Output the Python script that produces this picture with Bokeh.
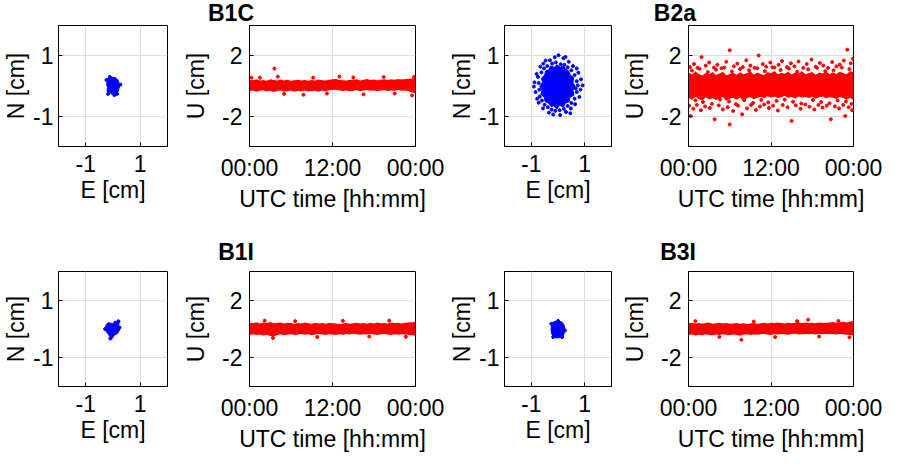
from bokeh.plotting import figure
from bokeh.layouts import row, column
from bokeh.models import FixedTicker, Range1d, Div
from bokeh.embed import file_html
from bokeh.resources import INLINE

# ---------------- data ----------------
TITLES = ["B1C", "B2a", "B1I", "B3I"]
EN_TICKS = [-1, 1]
EN_LABELS = {-1: "-1", 1: "1"}
U_TICKS = [-2, 2]
U_LABELS = {-2: "-2", 2: "2"}
T_TICKS = [0, 12, 24]
T_LABELS = {0: "00:00", 12: "12:00", 24: "00:00"}

HOURS = [0, 0.5, 1, 1.5, 2, 2.5, 3, 3.5, 4, 4.5, 5, 5.5, 6, 6.5, 7, 7.5,
         8, 8.5, 9, 9.5, 10, 10.5, 11, 11.5, 12, 12.5, 13, 13.5, 14, 14.5,
         15, 15.5, 16, 16.5, 17, 17.5, 18, 18.5, 19, 19.5, 20, 20.5, 21,
         21.5, 22, 22.5, 23, 23.5, 24]

# B1C: horizontal scatter (dense core outline + loose points)
B1C_E_CORE = [-0.20, -0.05, 0.10, 0.18, 0.22, 0.26, 0.22, 0.20, 0.10, 0.02,
              -0.08, -0.18, -0.22, -0.20, -0.24, -0.21]
B1C_N_CORE = [0.25, 0.29, 0.27, 0.20, 0.10, 0.02, -0.08, -0.18, -0.24, -0.29,
              -0.25, -0.27, -0.15, -0.05, 0.05, 0.15]
B1C_E_PTS = [-0.24, 0.27, 0.15, -0.12, 0.05, -0.18]
B1C_N_PTS = [0.20, 0.05, -0.26, 0.30, -0.30, -0.26]
# B1C: up component band (upper / lower edge) and loose points
B1C_U_UP = [0.42, 0.38, 0.45, 0.36, 0.40, 0.35, 0.44,
            0.39, 0.37, 0.43, 0.36, 0.41, 0.34, 0.38,
            0.42, 0.36, 0.39, 0.35, 0.40, 0.37, 0.43,
            0.38, 0.36, 0.41, 0.45, 0.47, 0.40, 0.38,
            0.36, 0.42, 0.39, 0.44, 0.37, 0.41, 0.46,
            0.40, 0.43, 0.38, 0.42, 0.45, 0.39, 0.44,
            0.41, 0.47, 0.43, 0.46, 0.48, 0.50, 0.52]
B1C_U_LO = [-0.35, -0.30, -0.38, -0.32, -0.28, -0.36, -0.31,
            -0.40, -0.33, -0.29, -0.37, -0.34, -0.30, -0.38,
            -0.32, -0.35, -0.29, -0.36, -0.33, -0.31, -0.38,
            -0.30, -0.34, -0.28, -0.27, -0.25, -0.30, -0.33,
            -0.29, -0.35, -0.31, -0.28, -0.34, -0.30, -0.27,
            -0.32, -0.29, -0.35, -0.30, -0.28, -0.33, -0.29,
            -0.31, -0.27, -0.32, -0.30, -0.35, -0.42, -0.50]
B1C_T_PTS = [0.3, 1.5, 3.6, 4.1, 5.0, 7.8, 9.2, 11.2, 13.0, 15.0, 16.5, 19.4,
             21.0, 23.5, 23.8]
B1C_U_PTS = [0.55, 0.55, 1.15, 0.62, -0.52, -0.58, 0.55, -0.50, 0.62, 0.56,
             -0.55, 0.60, -0.50, -0.62, 0.60]

# B2a
B2A_E_CORE = [-0.04, 0.08, 0.20, 0.30, 0.40, 0.46, 0.58, 0.56, 0.64, 0.56,
              0.60, 0.44, 0.42, 0.28, 0.20, 0.06, -0.04, -0.16, -0.26, -0.36,
              -0.48, -0.52, -0.64, -0.60, -0.68, -0.58, -0.62, -0.50, -0.46, -0.34,
              -0.28, -0.14]
B2A_N_CORE = [0.70, 0.62, 0.66, 0.55, 0.50, 0.36, 0.28, 0.12, -0.02, -0.14,
              -0.30, -0.38, -0.52, -0.56, -0.70, -0.64, -0.76, -0.66, -0.68, -0.56,
              -0.52, -0.36, -0.28, -0.14, 0.00, 0.12, 0.26, 0.36, 0.50, 0.54,
              0.66, 0.62]
B2A_E_PTS = [-0.72, -0.70, -0.75, -0.68, -0.62, -0.60, -0.52, -0.50, -0.40, -0.38,
             -0.22, -0.24, -0.08, -0.10, 0.10, 0.06, 0.24, 0.22, 0.36, 0.36,
             0.50, 0.50, 0.62, 0.62, 0.70, 0.70, 0.74, 0.66,
             -0.88, -0.84, -0.80, -0.90, -0.66, -0.72, -0.55, -0.56, -0.30, -0.34,
             -0.12, -0.18, 0.02, 0.08, 0.20, 0.30, 0.40, 0.48, 0.56, 0.64,
             0.76, 0.80, 0.86, 0.92, 0.84, 0.46, -0.46, 0.28, -0.78, 0.70]
B2A_N_PTS = [0.10, -0.12, 0.30, -0.35, 0.45, -0.48, 0.58, -0.62, 0.66, -0.70,
             0.74, -0.78, 0.78, -0.82, 0.72, -0.80, 0.70, -0.76, 0.62, -0.66,
             0.52, -0.56, 0.36, -0.42, 0.16, -0.20, 0.02, -0.08,
             0.12, -0.20, 0.40, -0.02, 0.64, -0.55, 0.74, -0.74, 0.85, -0.88,
             0.95, -0.94, 1.02, -0.96, 0.92, -0.86, 0.80, -0.74, 0.66, -0.60,
             0.44, -0.36, 0.22, 0.02, -0.12, -0.90, 0.84, 0.96, -0.42, 0.58]
B2A_U_UP = [0.90, 0.76, 0.97, 0.80, 0.70, 0.86, 0.77,
            0.93, 0.72, 0.82, 0.95, 0.71, 0.79, 0.88,
            0.74, 0.91, 0.78, 0.84, 0.97, 0.75, 0.89,
            0.80, 0.72, 0.93, 0.84, 1.00, 0.77, 0.88,
            0.81, 0.95, 0.76, 0.90, 0.82, 0.98, 0.79,
            0.85, 0.93, 0.75, 0.89, 0.83, 0.97, 0.78,
            0.91, 0.80, 0.95, 0.86, 0.77, 1.00, 0.90]
B2A_U_LO = [-0.78, -0.92, -0.72, -0.86, -0.97, -0.75, -0.89,
            -0.79, -0.95, -0.82, -0.73, -0.99, -0.84, -0.77,
            -0.91, -0.76, -1.02, -0.80, -0.74, -0.87, -0.78,
            -0.72, -0.81, -0.68, -0.76, -0.71, -0.80, -0.74,
            -0.66, -0.78, -0.72, -0.82, -0.70, -0.76, -0.73,
            -0.79, -0.71, -0.84, -0.75, -0.69, -0.81, -0.74,
            -0.77, -0.86, -0.72, -0.80, -0.91, -0.78, -0.96]
B2A_T_HI = [0.2, 0.8, 1.3, 1.9, 2.5, 3.0, 3.7, 4.2, 4.8, 5.5, 6.0, 6.6, 7.1, 7.9,
            8.4, 9.0, 9.6, 10.2, 10.8, 11.3, 11.9, 12.5, 13.1, 13.6, 14.3, 14.9,
            15.4, 16.0, 16.7, 17.2, 17.9, 18.5, 19.1, 19.6, 20.3, 20.9, 21.5,
            22.0, 22.6, 23.1, 23.6, 23.9]
B2A_U_HI = [1.25, 1.45, 1.20, 1.91, 1.35, 1.55, 1.22, 1.40, 1.18, 1.60, 2.36,
            1.30, 1.48, 1.25, 1.70, 1.35, 1.20, 2.02, 1.45, 1.28, 1.55, 1.22,
            1.40, 1.65, 1.25, 1.50, 1.30, 1.62, 1.20, 1.45, 1.75, 1.28, 1.52,
            1.35, 1.20, 1.58, 1.30, 1.42, 1.68, 2.40, 1.50, 1.80]
B2A_T_LO = [0.1, 0.3, 0.7, 1.2, 1.8, 2.4, 3.1, 3.8, 4.4, 5.0, 5.7, 6.0, 6.5, 7.2,
            7.8, 8.5, 9.1, 9.8, 10.4, 11.0, 11.7, 12.3, 13.0, 13.7, 14.4, 15.0,
            15.6, 16.3, 17.0, 17.6, 18.3, 18.9, 19.5, 20.1, 20.7, 21.3, 21.9,
            22.5, 22.8, 23.3, 23.8]
B2A_U_LOW = [-1.30, -1.98, -1.50, -1.25, -1.60, -1.35, -1.45, -2.20, -1.28,
             -1.55, -1.40, -2.54, -1.65, -1.30, -1.87, -1.48, -1.25, -1.58,
             -1.35, -1.22, -1.45, -1.30, -1.62, -1.25, -1.40, -2.31, -1.28,
             -1.50, -1.22, -1.38, -1.55, -1.25, -1.42, -1.30, -2.20, -1.35,
             -1.48, -1.25, -1.98, -1.40, -1.60]
B2A_T_EDGE = [0.5, 1.0, 1.6, 2.1, 2.8, 3.4, 4.0, 4.6, 5.2, 5.9, 6.3, 6.9, 7.5,
              8.1, 8.8, 9.4, 10.0, 10.6, 11.1, 11.6, 12.2, 12.8, 13.4, 14.0,
              14.6, 15.2, 15.8, 16.4, 17.4, 18.1, 18.7, 19.3, 19.9, 20.5, 21.1,
              21.7, 22.3, 22.9, 23.4, 23.7]
B2A_U_EDGE = [1.02, -0.95, 1.14, -1.06, 0.92, -1.18, 1.08, -0.90, 1.22, -1.02,
              0.96, -1.20, 1.12, -0.94, 1.04, -1.12, 1.18, -0.92, 0.98, -1.08,
              1.24, -0.98, 1.06, -0.90, 1.16, -1.04, 0.94, -1.16, 1.10, -0.92,
              1.20, -1.06, 0.98, -1.14, 1.04, -0.96, 1.22, -1.02, 1.12, -1.18]

# B1I
B1I_E_CORE = [-0.28, -0.25, -0.18, -0.08, 0.02, 0.10, 0.17, 0.22, 0.21, 0.25,
              0.20, 0.12, 0.04, -0.02, -0.08, -0.12, -0.20, -0.28]
B1I_N_CORE = [0.05, 0.15, 0.22, 0.20, 0.18, 0.22, 0.28, 0.22, 0.10, 0.00,
              -0.12, -0.18, -0.22, -0.32, -0.34, -0.25, -0.15, -0.05]
B1I_E_PTS = [0.20, -0.29, 0.24, -0.10, 0.08]
B1I_N_PTS = [0.27, 0.00, 0.05, -0.33, 0.22]
B1I_U_UP = [0.44, 0.40, 0.47, 0.38, 0.45, 0.42, 0.48,
            0.40, 0.43, 0.46, 0.39, 0.44, 0.41, 0.37,
            0.42, 0.38, 0.45, 0.40, 0.36, 0.43, 0.39,
            0.41, 0.37, 0.44, 0.40, 0.38, 0.35, 0.39,
            0.42, 0.36, 0.40, 0.44, 0.38, 0.41, 0.37,
            0.43, 0.39, 0.45, 0.40, 0.42, 0.38, 0.46,
            0.41, 0.44, 0.39, 0.43, 0.45, 0.47, 0.50]
B1I_U_LO = [-0.40, -0.36, -0.42, -0.38, -0.45, -0.40, -0.48,
            -0.52, -0.41, -0.37, -0.43, -0.39, -0.36, -0.42,
            -0.38, -0.35, -0.40, -0.37, -0.43, -0.39, -0.34,
            -0.38, -0.41, -0.36, -0.39, -0.42, -0.37, -0.40,
            -0.35, -0.38, -0.33, -0.37, -0.40, -0.36, -0.39,
            -0.35, -0.38, -0.41, -0.36, -0.34, -0.38, -0.42,
            -0.37, -0.40, -0.36, -0.39, -0.41, -0.44, -0.46]
B1I_T_PTS = [2.2, 3.4, 6.6, 9.8, 13.5, 17.3, 20.2, 22.6]
B1I_U_PTS = [0.58, -0.62, 0.55, -0.55, 0.57, -0.52, 0.58, -0.54]

# B3I
B3I_E_CORE = [-0.22, -0.10, 0.05, 0.15, 0.22, 0.26, 0.24, 0.20, 0.08, -0.05,
              -0.15, -0.23, -0.26, -0.25]
B3I_N_CORE = [0.22, 0.27, 0.27, 0.24, 0.15, 0.02, -0.12, -0.24, -0.30, -0.31,
              -0.28, -0.18, -0.05, 0.10]
B3I_E_PTS = [-0.25, 0.26, 0.00, 0.15, -0.18]
B3I_N_PTS = [0.18, -0.05, 0.28, -0.28, -0.28]
B3I_U_UP = [0.40, 0.44, 0.38, 0.42, 0.36, 0.41, 0.45,
            0.37, 0.40, 0.43, 0.38, 0.41, 0.36, 0.39,
            0.42, 0.37, 0.40, 0.35, 0.38, 0.41, 0.36,
            0.40, 0.43, 0.38, 0.44, 0.41, 0.46, 0.42,
            0.39, 0.44, 0.40, 0.43, 0.47, 0.42, 0.45,
            0.41, 0.44, 0.40, 0.46, 0.43, 0.41, 0.45,
            0.48, 0.44, 0.47, 0.50, 0.46, 0.52, 0.55]
B3I_U_LO = [-0.42, -0.38, -0.45, -0.40, -0.43, -0.37, -0.41,
            -0.44, -0.39, -0.42, -0.36, -0.40, -0.43, -0.38,
            -0.41, -0.47, -0.39, -0.36, -0.42, -0.38, -0.40,
            -0.37, -0.35, -0.39, -0.42, -0.36, -0.38, -0.34,
            -0.37, -0.40, -0.35, -0.33, -0.38, -0.36, -0.34,
            -0.37, -0.35, -0.39, -0.34, -0.36, -0.33, -0.37,
            -0.35, -0.38, -0.34, -0.37, -0.40, -0.42, -0.45]
B3I_T_PTS = [1.0, 4.5, 7.7, 9.5, 12.6, 15.8, 17.4, 19.0, 21.8, 23.4]
B3I_U_PTS = [0.55, -0.55, -0.75, 0.52, -0.56, 0.55, 0.65, -0.52, 0.56, -0.58]

# ---------------- styling ----------------
FONT = "Liberation Sans"
TICK_PX = "23px"
RED = "#ff0000"
BLUE = "#0000ff"
GRID = "#dedede"


def make_fig(xr, yr, width, height, bl, br, bt, bb, xlabel, ylabel,
             xticks, yticks, xover, yover, y_tick_standoff=7, y_label_standoff=2):
    p = figure(width=width, height=height,
               min_border_left=bl, min_border_right=br,
               min_border_top=bt, min_border_bottom=bb,
               x_range=Range1d(*xr), y_range=Range1d(*yr),
               output_backend="svg", toolbar_location=None,
               x_axis_label=xlabel, y_axis_label=ylabel)
    p.outline_line_color = "black"
    p.outline_line_width = 1
    p.outline_line_alpha = 1
    p.background_fill_color = "white"
    p.border_fill_color = "white"
    p.xaxis.ticker = FixedTicker(ticks=xticks)
    p.yaxis.ticker = FixedTicker(ticks=yticks)
    p.xgrid.ticker = FixedTicker(ticks=xticks)
    p.ygrid.ticker = FixedTicker(ticks=yticks)
    p.xaxis.major_label_overrides = xover
    p.yaxis.major_label_overrides = yover
    for g in (p.xgrid, p.ygrid):
        g.grid_line_color = GRID
        g.grid_line_width = 1
    for ax in p.axis:
        ax.major_label_text_font = FONT
        ax.major_label_text_font_size = TICK_PX
        ax.major_label_text_color = "black"
        ax.axis_label_text_font = FONT
        ax.axis_label_text_font_size = TICK_PX
        ax.axis_label_text_font_style = "normal"
        ax.axis_label_text_color = "black"
        ax.major_tick_in = 4
        ax.major_tick_out = 0
        ax.major_tick_line_color = "black"
        ax.minor_tick_line_color = None
        ax.axis_line_color = "black"
    p.xaxis.major_label_standoff = 8
    p.xaxis.axis_label_standoff = 2
    p.yaxis.major_label_standoff = y_tick_standoff
    p.yaxis.axis_label_standoff = y_label_standoff
    return p


def en_panel(bl, height, bt, bb, ce, cn, pe, pn):
    p = make_fig((-2, 2), (-2, 2), bl + 112 + 2, height, bl, 2, bt, bb,
                 "E [cm]", "N [cm]", EN_TICKS, EN_TICKS, EN_LABELS, EN_LABELS,
                 y_tick_standoff=5, y_label_standoff=1)
    p.patch(x=ce, y=cn, fill_color=BLUE, line_color=BLUE, line_width=1)
    p.scatter(x=pe, y=pn, size=3, color=BLUE, marker="circle")
    return p


def u_panel(bl, fw, br, height, bt, bb, up, lo, pts):
    p = make_fig((0, 24), (-4, 4), bl + fw + br, height, bl, br, bt, bb,
                 "UTC time [hh:mm]", "U [cm]", T_TICKS, U_TICKS, T_LABELS, U_LABELS,
                 y_tick_standoff=7, y_label_standoff=10)
    p.varea(x=HOURS, y1=lo, y2=up, fill_color=RED)
    for (tt, uu) in pts:
        p.scatter(x=tt, y=uu, size=3, color=RED, marker="circle")
    return p


def title_div(text, width, height):
    return Div(text=text, width=width, height=height, margin=(0, 0, 0, 0),
               styles={"font-family": FONT, "font-size": "23px",
                       "font-weight": "bold", "line-height": "26px",
                       "text-align": "right", "color": "black",
                       "white-space": "nowrap"})


# page rows: title row (25) | plots (214) | title row (26) | plots (189)
H1, T1_TOP, T1_BOT = 214, 0, 93
H2, T2_TOP, T2_BOT = 189, 6, 62

en1 = en_panel(55, H1, T1_TOP, T1_BOT, B1C_E_CORE, B1C_N_CORE, B1C_E_PTS, B1C_N_PTS)
u1 = u_panel(80, 166, 31, H1, T1_TOP, T1_BOT, B1C_U_UP, B1C_U_LO,
             [(B1C_T_PTS, B1C_U_PTS)])
en2 = en_panel(53, H1, T1_TOP, T1_BOT, B2A_E_CORE, B2A_N_CORE, B2A_E_PTS, B2A_N_PTS)
u2 = u_panel(75, 165, 29, H1, T1_TOP, T1_BOT, B2A_U_UP, B2A_U_LO,
             [(B2A_T_HI, B2A_U_HI), (B2A_T_LO, B2A_U_LOW), (B2A_T_EDGE, B2A_U_EDGE)])
en3 = en_panel(55, H2, T2_TOP, T2_BOT, B1I_E_CORE, B1I_N_CORE, B1I_E_PTS, B1I_N_PTS)
u3 = u_panel(80, 166, 31, H2, T2_TOP, T2_BOT, B1I_U_UP, B1I_U_LO,
             [(B1I_T_PTS, B1I_U_PTS)])
en4 = en_panel(53, H2, T2_TOP, T2_BOT, B3I_E_CORE, B3I_N_CORE, B3I_E_PTS, B3I_N_PTS)
u4 = u_panel(75, 165, 29, H2, T2_TOP, T2_BOT, B3I_U_UP, B3I_U_LO,
             [(B3I_T_PTS, B3I_U_PTS)])

layout = column(
    row(title_div(TITLES[0], 254, 25), title_div(TITLES[1], 442, 25)),
    row(en1, u1, en2, u2),
    row(title_div(TITLES[2], 254, 26), title_div(TITLES[3], 442, 26)),
    row(en3, u3, en4, u4),
)

with open("out.html", "w") as f:
    f.write(file_html(layout, INLINE))
